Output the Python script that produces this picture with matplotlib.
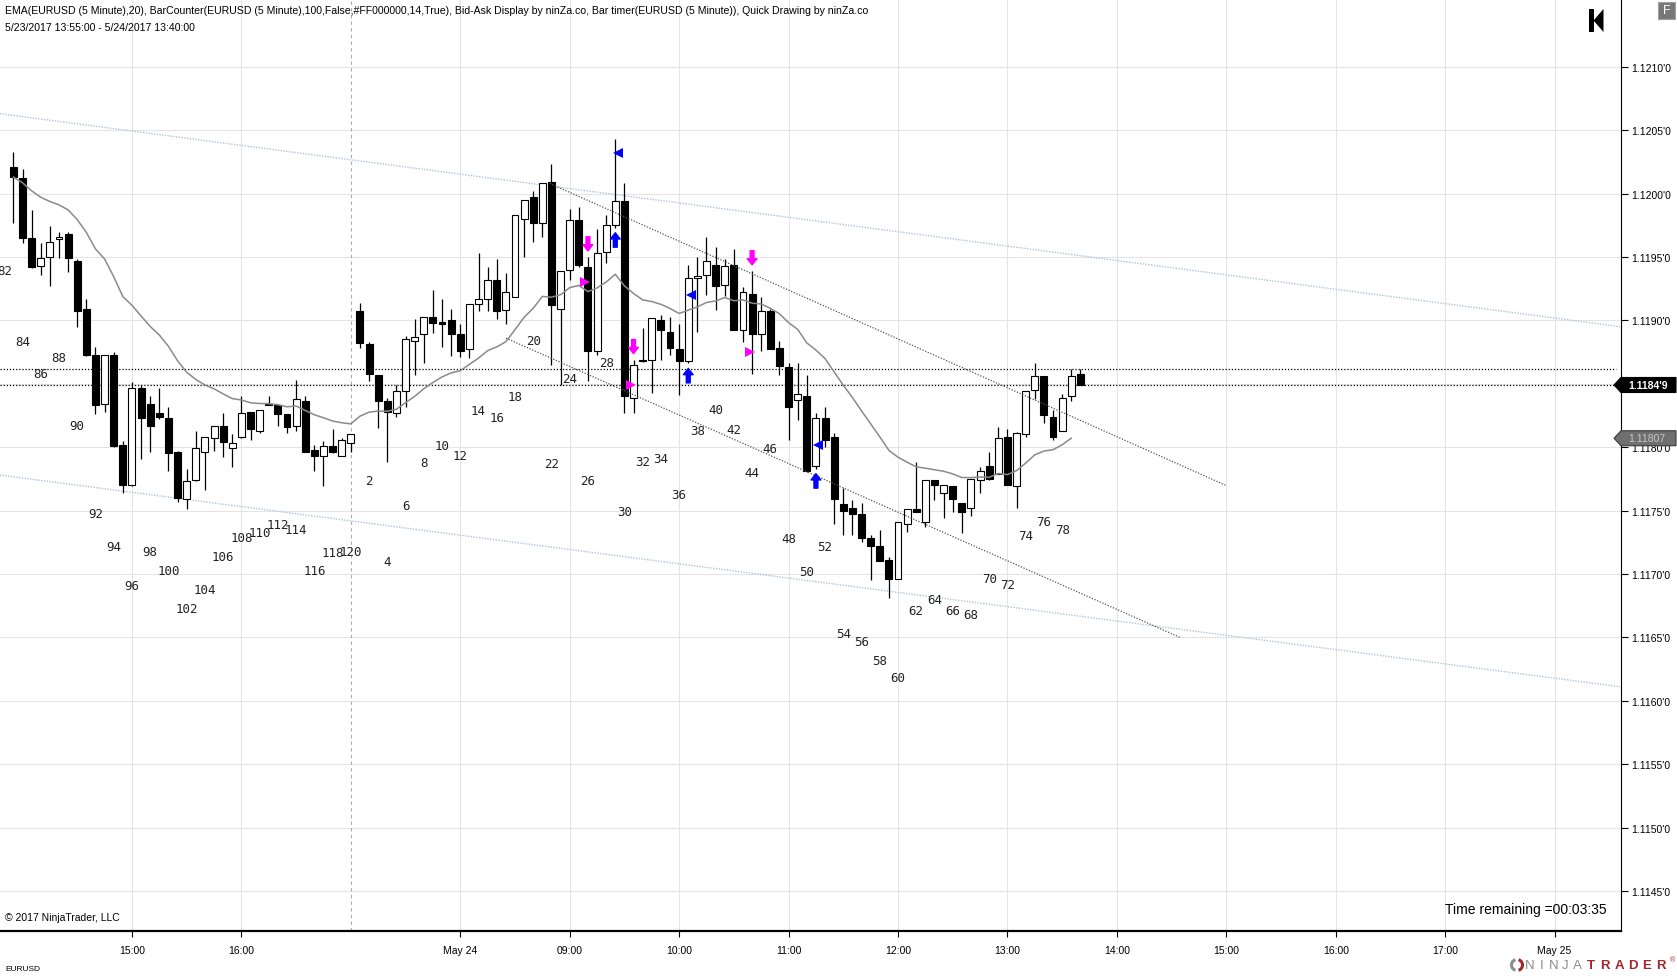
import matplotlib
matplotlib.use("Agg")
import matplotlib.pyplot as plt
from matplotlib.patches import Polygon, Rectangle, Arc
import numpy as np

#########################################################
########  Data: EURUSD 5 minute bars  ###################
#########################################################

# bar counter numbers: end of 5/23 session (83..120), then 5/24 session (1..80)
bar_nums = list(range(83, 121)) + list(range(1, 81))

opens = [1.12021, 1.12012, 1.11965, 1.11943, 1.11950, 1.11964, 1.11968, 1.11947, 1.11909, 1.11873,
         1.11834, 1.11873, 1.11802, 1.11770, 1.11847, 1.11834, 1.11827, 1.11823, 1.11796, 1.11759,
         1.11774, 1.11796, 1.11807, 1.11817, 1.11799, 1.11808, 1.11828, 1.11813, 1.11834, 1.11833,
         1.11826, 1.11817, 1.11836, 1.11798, 1.11793, 1.11801, 1.11793, 1.11803,
         1.11907, 1.11881, 1.11857, 1.11836, 1.11827, 1.11844, 1.11884, 1.11889, 1.11903, 1.11899,
         1.11900, 1.11889, 1.11877, 1.11913, 1.11917, 1.11932, 1.11908, 1.11918, 1.11980, 1.11997,
         1.11977, 1.12009, 1.11909, 1.11940, 1.11979, 1.11942, 1.11876, 1.11954, 1.11975, 1.11994,
         1.11839, 1.11869, 1.11869, 1.11900, 1.11891, 1.11877, 1.11868, 1.11933, 1.11936, 1.11944,
         1.11928, 1.11944, 1.11892, 1.11921, 1.11889, 1.11907, 1.11878, 1.11863, 1.11837, 1.11840,
         1.11785, 1.11823, 1.11808, 1.11755, 1.11752, 1.11747, 1.11728, 1.11722, 1.11711, 1.11696,
         1.11739, 1.11751, 1.11741, 1.11774, 1.11764, 1.11769, 1.11756, 1.11752, 1.11774, 1.11785,
         1.11779, 1.11808, 1.11769, 1.11810, 1.11845, 1.11856, 1.11824, 1.11813, 1.11840, 1.11858]
highs = [1.12033, 1.12019, 1.11987, 1.11961, 1.11974, 1.11970, 1.11970, 1.11948, 1.11917, 1.11879,
         1.11873, 1.11875, 1.11805, 1.11851, 1.11849, 1.11840, 1.11847, 1.11832, 1.11797, 1.11783,
         1.11813, 1.11808, 1.11817, 1.11827, 1.11810, 1.11840, 1.11828, 1.11829, 1.11840, 1.11833,
         1.11826, 1.11853, 1.11840, 1.11802, 1.11805, 1.11814, 1.11807, 1.11810,
         1.11914, 1.11883, 1.11857, 1.11839, 1.11849, 1.11888, 1.11901, 1.11903, 1.11924, 1.11917,
         1.11909, 1.11897, 1.11913, 1.11953, 1.11942, 1.11948, 1.11937, 1.11983, 1.11995, 1.12002,
         1.12008, 1.12023, 1.11939, 1.11988, 1.11989, 1.11950, 1.11972, 1.11983, 1.12043, 1.12008,
         1.11869, 1.11894, 1.11902, 1.11904, 1.11903, 1.11897, 1.11944, 1.11950, 1.11966, 1.11958,
         1.11948, 1.11956, 1.11926, 1.11939, 1.11918, 1.11909, 1.11884, 1.11866, 1.11866, 1.11857,
         1.11827, 1.11832, 1.11811, 1.11768, 1.11758, 1.11756, 1.11731, 1.11735, 1.11713, 1.11741,
         1.11751, 1.11788, 1.11774, 1.11774, 1.11770, 1.11769, 1.11756, 1.11775, 1.11784, 1.11796,
         1.11816, 1.11814, 1.11812, 1.11844, 1.11866, 1.11856, 1.11829, 1.11842, 1.11862, 1.11862]
lows = [1.11977, 1.11961, 1.11941, 1.11936, 1.11927, 1.11949, 1.11938, 1.11895, 1.11872, 1.11826,
        1.11828, 1.11800, 1.11764, 1.11769, 1.11791, 1.11796, 1.11822, 1.11781, 1.11757, 1.11751,
        1.11773, 1.11766, 1.11797, 1.11792, 1.11784, 1.11807, 1.11806, 1.11811, 1.11833, 1.11817,
        1.11811, 1.11813, 1.11796, 1.11781, 1.11769, 1.11795, 1.11793, 1.11796,
        1.11878, 1.11852, 1.11815, 1.11788, 1.11824, 1.11832, 1.11857, 1.11866, 1.11890, 1.11879,
        1.11872, 1.11871, 1.11870, 1.11907, 1.11907, 1.11901, 1.11897, 1.11918, 1.11950, 1.11962,
        1.11966, 1.11865, 1.11849, 1.11932, 1.11942, 1.11852, 1.11873, 1.11945, 1.11973, 1.11827,
        1.11827, 1.11867, 1.11843, 1.11869, 1.11873, 1.11841, 1.11866, 1.11891, 1.11920, 1.11908,
        1.11919, 1.11892, 1.11883, 1.11858, 1.11876, 1.11877, 1.11857, 1.11806, 1.11821, 1.11780,
        1.11783, 1.11800, 1.11739, 1.11731, 1.11731, 1.11725, 1.11695, 1.11710, 1.11681, 1.11696,
        1.11733, 1.11749, 1.11737, 1.11758, 1.11744, 1.11749, 1.11732, 1.11746, 1.11764, 1.11774,
        1.11779, 1.11770, 1.11752, 1.11808, 1.11838, 1.11819, 1.11806, 1.11813, 1.11836, 1.11849]
closes = [1.12013, 1.11965, 1.11942, 1.11949, 1.11962, 1.11966, 1.11949, 1.11907, 1.11873, 1.11833,
          1.11873, 1.11801, 1.11770, 1.11847, 1.11823, 1.11817, 1.11824, 1.11795, 1.11760, 1.11773,
          1.11799, 1.11808, 1.11817, 1.11804, 1.11803, 1.11827, 1.11814, 1.11829, 1.11833, 1.11826,
          1.11816, 1.11838, 1.11796, 1.11793, 1.11801, 1.11796, 1.11806, 1.11810,
          1.11882, 1.11858, 1.11836, 1.11828, 1.11844, 1.11885, 1.11887, 1.11903, 1.11898, 1.11897,
          1.11889, 1.11876, 1.11913, 1.11917, 1.11932, 1.11907, 1.11922, 1.11983, 1.11995, 1.11977,
          1.12008, 1.11912, 1.11939, 1.11979, 1.11944, 1.11876, 1.11953, 1.11975, 1.11994, 1.11840,
          1.11865, 1.11868, 1.11902, 1.11892, 1.11878, 1.11868, 1.11933, 1.11935, 1.11947, 1.11927,
          1.11943, 1.11892, 1.11922, 1.11889, 1.11907, 1.11877, 1.11864, 1.11832, 1.11842, 1.11781,
          1.11823, 1.11806, 1.11759, 1.11750, 1.11747, 1.11728, 1.11722, 1.11710, 1.11696, 1.11741,
          1.11751, 1.11749, 1.11774, 1.11770, 1.11770, 1.11759, 1.11749, 1.11775, 1.11781, 1.11775,
          1.11807, 1.11770, 1.11811, 1.11844, 1.11856, 1.11825, 1.11808, 1.11839, 1.11856, 1.11849]

prev_bar_low = 1.12017      # bar 82, only its counter label is on screen
ask_line = 1.11862
ema_marker = 1.11807

# signals (bar number in the 5/24 session, price of the small triangle)
sell_bars = [26, 31, 44]
sell_tri = [1.11930, 1.11849, 1.11875]
buy_bars = [29, 37, 51]
buy_tri = [1.12032, 1.11920, 1.11802]

# drawn lines: (index, price) pairs
channel_up = [(141.8, 1.12008), (215.9, 1.11770)]
channel_lo = [(137.0, 1.11886), (210.9, 1.11650)]
long_up = [(81.5, 1.12063), (259.2, 1.11895)]
long_lo = [(81.5, 1.11778), (259.2, 1.11611)]

tick_idx = [96, 108, 132, 144, 156, 168, 180, 192, 204, 216, 228, 240, 252]
tick_lbl = ["15:00", "16:00", "May 24", "09:00", "10:00", "11:00", "12:00",
            "13:00", "14:00", "15:00", "16:00", "17:00", "May 25"]
price_ticks = [1.1145 + 0.0005 * k for k in range(14)]

#########################################################
########  Figure   ######################################
#########################################################

W, H = 1677, 978
plt.rcParams['font.family'] = ['Liberation Sans', 'DejaVu Sans']
fig = plt.figure(figsize=(W / 100, H / 100), dpi=100)
ax = fig.add_axes([0, 1 - 932 / H, 1621 / W, 932 / H])
ax.set_xlim(81.53, 259.28)
ax.set_ylim(1.114184, 1.121534)

def fx(px):
    return px / W

def fy(py):
    return 1 - py / H

def pip_text(p):
    n = int(round(p * 1e5))
    return f"{n // 10 / 1e4:.4f}'{n % 10}"

idx = np.array(list(range(83, 121)) + [120 + k for k in range(1, 81)], dtype=float)
o = np.array(opens)
h = np.array(highs)
l = np.array(lows)
c = np.array(closes)
up = c >= o

ax.vlines(idx, l, h, color="black", lw=0.9, zorder=3)
body_lo = np.minimum(o, c)
body_h = np.maximum(np.abs(c - o), 0.000006)
ax.bar(idx, body_h, bottom=body_lo, width=0.76,
       color=np.where(up, "white", "black"), edgecolor="black", lw=0.8, zorder=4)

# EMA 20 on closed bars
alpha = 2.0 / 21
ema = [closes[0]]
for v in closes[1:-1]:
    ema.append(ema[-1] + alpha * (v - ema[-1]))
ax.plot(idx[:-1], ema, color="#8a8a8a", lw=1.1, zorder=5)

# bar counter labels (closed bars only)
mono = "DejaVu Sans Mono"
ax.text(82, prev_bar_low - 0.00078, "82", ha="center", va="center",
        fontsize=9, family=mono, color="#222222", zorder=6)
for n, x, lo in zip(bar_nums[:-1], idx[:-1], lows[:-1]):
    if n % 2 == 0:
        ax.text(x, lo - 0.00078, str(n), ha="center", va="center",
                fontsize=9, family=mono, color="#222222", zorder=6)

# lines
for ln in (long_up, long_lo):
    ax.plot([ln[0][0], ln[1][0]], [ln[0][1], ln[1][1]], color="#aec3dd", lw=1.0,
            ls=(0, (1, 1)), zorder=2)
for ln in (channel_up, channel_lo):
    ax.plot([ln[0][0], ln[1][0]], [ln[0][1], ln[1][1]], color="#555555", lw=0.9,
            ls=(0, (1, 1.3)), zorder=5)
ax.axhline(ask_line, xmax=0.997, color="black", lw=0.9, ls=(0, (1, 1.5)), zorder=2)
ax.axhline(closes[-1], xmax=0.997, color="black", lw=0.9, ls=(0, (1, 1.5)), zorder=2)
ax.axvline(120, color="#aaaaaa", lw=0.8, ls=(0, (3, 3)), zorder=1)

# signal arrows and triangles
arrow_style = "simple,head_length=0.45,head_width=0.7,tail_width=0.28"
for b, p in zip(sell_bars, sell_tri):
    x = 120 + b
    hi = highs[38 + b - 1]
    ax.annotate("", xy=(x, hi), xytext=(0, 14.5), textcoords="offset points",
                arrowprops=dict(arrowstyle=arrow_style, color="#ff00ff",
                                shrinkA=0, shrinkB=4.3, mutation_scale=10), zorder=7)
    ax.plot(x - 0.28, p, marker=">", color="#ff00ff", ms=6.5, mew=0, zorder=7)
for b, p in zip(buy_bars, buy_tri):
    x = 120 + b
    lo = lows[38 + b - 1]
    ax.annotate("", xy=(x, lo), xytext=(0, -14), textcoords="offset points",
                arrowprops=dict(arrowstyle=arrow_style, color="#0000ff",
                                shrinkA=0, shrinkB=3.6, mutation_scale=10), zorder=7)
    ax.plot(x + 0.25, p, marker="<", color="#0000ff", ms=6.5, mew=0, zorder=7)

# axes styling
for s in ("left", "top"):
    ax.spines[s].set_visible(False)
ax.spines["right"].set_linewidth(0.8)
ax.spines["bottom"].set_linewidth(1.6)
ax.set_xticks(tick_idx, tick_lbl)
ax.set_yticks(price_ticks, [f"{p:.4f}'0" for p in price_ticks])
ax.yaxis.tick_right()
ax.tick_params(axis="x", length=4, width=0.8, pad=6, labelsize=7.5)
ax.tick_params(axis="y", length=5, width=0.8, pad=2, labelsize=7.5)
ax.grid(True, color="#e4e4e4", lw=0.8)
ax.set_axisbelow(True)

# price markers on the axis
def marker(price, fill, edge, txt, tcol, weight="normal"):
    yp = H - ax.transData.transform((0, price))[1]
    pts = [(fx(1614), fy(yp)), (fx(1621), fy(yp - 7.5)), (fx(1676), fy(yp - 7.5)),
           (fx(1676), fy(yp + 7.5)), (fx(1621), fy(yp + 7.5))]
    fig.patches.append(Polygon(pts, closed=True, transform=fig.transFigure,
                               facecolor=fill, edgecolor=edge, lw=0.8, zorder=10))
    fig.text(fx(1628), fy(yp), txt, color=tcol, fontsize=7.5, va="center",
             weight=weight, zorder=11)

fig.canvas.draw()
marker(ema_marker, "#6f6f6f", "#3c3c3c", f"{ema_marker:.5f}", "#c8c8c8")
marker(closes[-1], "black", "black", pip_text(closes[-1]), "white", "bold")

# header texts
fig.text(fx(5), fy(11), "EMA(EURUSD (5 Minute),20), BarCounter(EURUSD (5 Minute),100,False,#FF000000,14,True), "
         "Bid-Ask Display by ninZa.co, Bar timer(EURUSD (5 Minute)), Quick Drawing by ninZa.co",
         fontsize=7.6, va="center")
fig.text(fx(5), fy(28), "5/23/2017 13:55:00 - 5/24/2017 13:40:00", fontsize=7.6, va="center")
fig.text(fx(5), fy(918), "\u00a9 2017 NinjaTrader, LLC", fontsize=7.5, va="center")
fig.text(fx(1607), fy(910), "Time remaining =00:03:35", fontsize=10, va="center", ha="right")
fig.text(fx(5), fy(970), "EURUSD", fontsize=6, va="center")

# top right buttons
fig.patches.append(Rectangle((fx(1589), fy(33)), fx(4.5), 23 / H, transform=fig.transFigure,
                             facecolor="black", zorder=10))
fig.patches.append(Polygon([(fx(1603.5), fy(10)), (fx(1603.5), fy(33)), (fx(1593.5), fy(21.5))],
                           closed=True, transform=fig.transFigure, facecolor="black", zorder=10))
fig.patches.append(Rectangle((fx(1658), fy(20)), fx(17), 17 / H, transform=fig.transFigure,
                             facecolor="#777777", edgecolor="#a0a0a0", lw=0.8, zorder=10))
fig.text(fx(1666.5), fy(11.5), "F", color="white", fontsize=9, ha="center", va="center", zorder=11)

# logo
fig.patches.append(Arc((fx(1517), fy(966)), 11 / W, 11 / H, theta1=100, theta2=260,
                       transform=fig.transFigure, color="#8c8c8c", lw=2.2, zorder=10))
fig.patches.append(Arc((fx(1517), fy(966)), 11 / W, 11 / H, theta1=-80, theta2=80,
                       transform=fig.transFigure, color="#a3262c", lw=2.2, zorder=10))
for i, ch in enumerate("NINJA"):
    fig.text(fx(1524 + 11.8 * (i + 0.5)), fy(966), ch, color="#8c8c8c", fontsize=9.5,
             ha="center", va="center")
for i, ch in enumerate("TRADER"):
    fig.text(fx(1584 + 14 * (i + 0.5)), fy(966), ch, color="#a3262c", fontsize=9.5,
             ha="center", va="center", weight="bold")
fig.text(fx(1670), fy(961), "\u00ae", color="#a3262c", fontsize=5, va="center")

fig.savefig("out.png", dpi=100, facecolor="white")
